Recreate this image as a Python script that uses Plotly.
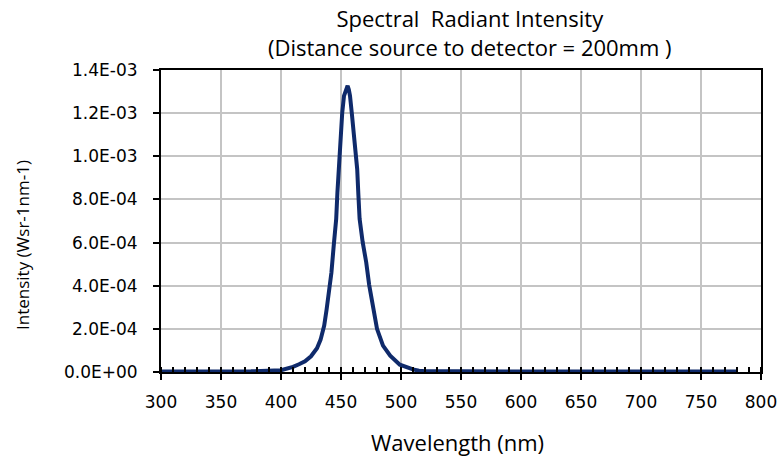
import plotly.graph_objects as go

# Wavelength (nm)
wavelength = [300, 325, 350, 375, 400, 405, 410, 415, 420, 425, 430, 433, 436, 438,
              440, 442, 444, 446, 447, 448, 450, 451, 452.5, 454, 455.5, 456.5, 457.5,
              459, 460, 462, 463.5, 464.5, 465.5, 468, 471, 473.5, 476.5, 480, 485,
              491, 499, 505, 510, 515, 520, 550, 600, 650, 700, 750, 780]
# Spectral radiant intensity (W sr-1 nm-1)
intensity = [2e-6, 2e-6, 2e-6, 3e-6, 8e-6, 1.5e-5, 2.4e-5, 3.6e-5, 5.0e-5, 7.3e-5,
             1.10e-4, 1.50e-4, 2.15e-4, 2.90e-4, 3.70e-4, 4.60e-4, 5.90e-4, 7.10e-4,
             8.30e-4, 9.40e-4, 1.08e-3, 1.20e-3, 1.28e-3, 1.31e-3, 1.327e-3, 1.31e-3,
             1.28e-3, 1.20e-3, 1.15e-3, 1.05e-3, 9.4e-4, 8.2e-4, 7.1e-4, 6.04e-4,
             5.09e-4, 4.03e-4, 3.07e-4, 2.0e-4, 1.22e-4, 7.6e-5, 3.4e-5, 2.0e-5,
             1.2e-5, 6e-6, 4e-6, 3e-6, 2e-6, 2e-6, 2e-6, 2e-6, 2e-6]

x_ticks = [300, 350, 400, 450, 500, 550, 600, 650, 700, 750, 800]
y_tickvals = [0, 2e-4, 4e-4, 6e-4, 8e-4, 1.0e-3, 1.2e-3, 1.4e-3]
y_ticktext = ["0.0E+00", "2.0E-04", "4.0E-04", "6.0E-04", "8.0E-04",
              "1.0E-03", "1.2E-03", "1.4E-03"]

title_text = "Spectral  Radiant Intensity<br>(Distance source to detector = 200mm )"
x_title = "Wavelength (nm)"
y_title = "Intensity (Wsr-1nm-1)"

W, H = 779, 456
ML, MR, MT, MB = 161, 18, 70, 84
PW, PH = W - ML - MR, H - MT - MB


def ax(page_x):
    return (page_x - ML) / PW


def ay(page_y):
    return ((H - MB) - page_y) / PH


fig = go.Figure()
fig.add_trace(go.Scatter(
    x=wavelength, y=intensity, mode="lines",
    line=dict(color="#0f2a6b", width=4),
    showlegend=False,
))

tick_font = dict(family="DejaVu Sans", size=17, color="black")

fig.update_layout(
    width=W, height=H,
    margin=dict(l=ML, r=MR, t=MT, b=MB, autoexpand=False),
    paper_bgcolor="white", plot_bgcolor="white",
    annotations=[
        dict(text=title_text, xref="paper", yref="paper", align="center",
             x=ax(470), y=ay(33), xanchor="center", yanchor="middle",
             showarrow=False, font=dict(family="Open Sans", size=22, color="black")),
        dict(text=x_title, xref="paper", yref="paper",
             x=ax(457), y=ay(442), xanchor="center", yanchor="middle",
             showarrow=False, font=dict(family="Open Sans", size=22, color="black")),
        dict(text=y_title, xref="paper", yref="paper", textangle=-90,
             x=ax(22), y=ay(245), xanchor="center", yanchor="middle",
             showarrow=False, font=dict(family="Open Sans", size=17, color="black")),
    ],
)
fig.update_xaxes(
    range=[300, 800], tickvals=x_ticks, automargin=False,
    showgrid=True, gridcolor="#c4c4c4", gridwidth=2,
    showline=True, linecolor="black", linewidth=2, mirror=True,
    ticks="outside", ticklen=6, tickwidth=2, tickcolor="black",
    minor=dict(ticks="inside", dtick=10, ticklen=5, tickwidth=1.5,
               tickcolor="black", showgrid=False),
    tickfont=tick_font, ticklabelstandoff=8,
    zeroline=False,
)
fig.update_yaxes(
    range=[0, 1.4e-3], tickvals=y_tickvals, ticktext=y_ticktext, automargin=False,
    showgrid=True, gridcolor="#c4c4c4", gridwidth=2,
    showline=True, linecolor="black", linewidth=2, mirror=True,
    ticks="outside", ticklen=6, tickwidth=1.5, tickcolor="black",
    tickfont=tick_font, ticklabelstandoff=12,
    zeroline=False,
)

# Remove the default 8px page margin so the figure fills the window exactly.
fig.write_html(
    "out.html",
    config={"displayModeBar": False},
    post_script="document.body.style.margin='0';document.body.style.overflow='hidden';",
)
